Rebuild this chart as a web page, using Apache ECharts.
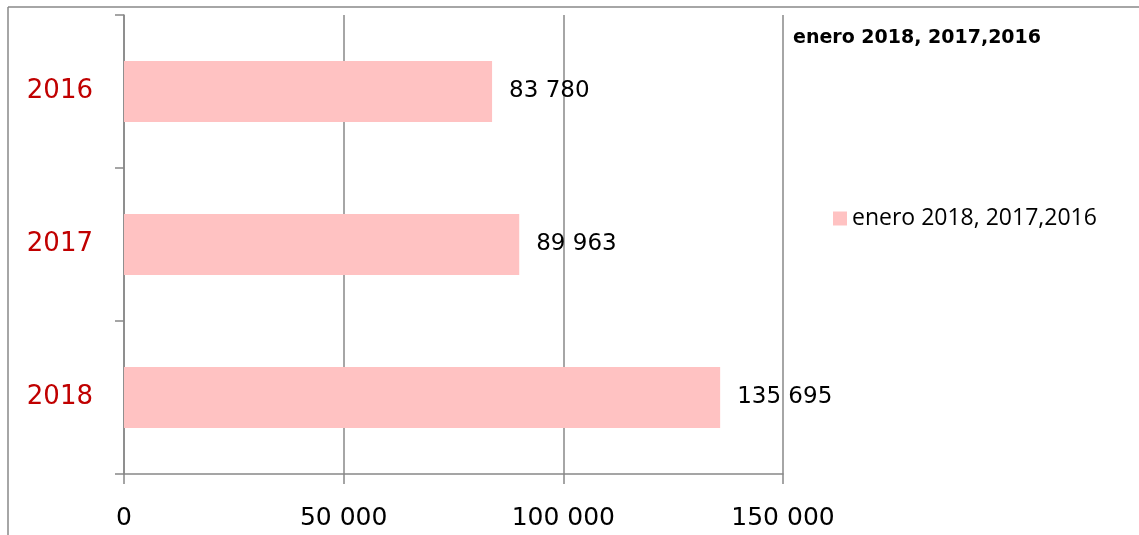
<!DOCTYPE html>
<html><head><meta charset="utf-8">
<script src="https://cdn.jsdelivr.net/npm/echarts@6/dist/echarts.min.js"></script>
<style>html,body{margin:0;padding:0;background:#fff}#c{width:1139px;height:535px}</style>
</head><body><div id="c"></div>
<script>
const categories = ['2018', '2017', '2016'];
const values = [135695, 89963, 83780];
const seriesName = 'enero 2018, 2017,2016';
const xTicks = [0, 50000, 100000, 150000];

function fmt(v){ return String(v).replace(/\B(?=(\d{3})+(?!\d))/g, ' '); }

const chart = echarts.init(document.getElementById('c'));
chart.setOption({
  animation: false,
  title: { text: seriesName, left: 788, top: 24,
    textStyle: { fontFamily: 'DejaVu Sans', fontSize: 19, fontWeight: 'bold', color: '#000' } },
  legend: { data: [seriesName], left: 828, top: 202, icon: 'rect', itemWidth: 14, itemHeight: 14, itemGap: 6,
    textStyle: { fontFamily: 'Open Sans', fontSize: 23, color: '#000' } },
  grid: { left: 124, top: 15, width: 659, height: 459, containLabel: false },
  xAxis: { type: 'value', min: xTicks[0], max: xTicks[xTicks.length-1], interval: 50000,
    axisLine: { show: true, lineStyle: { color: '#888', width: 1.5 } },
    axisTick: { show: true, length: 10, lineStyle: { color: '#888', width: 1.5 } },
    splitLine: { show: true, lineStyle: { color: '#888', width: 1.5 } },
    axisLabel: { margin: 32, fontFamily: 'DejaVu Sans', fontSize: 25, color: '#000', formatter: fmt } },
  yAxis: { type: 'category', data: categories,
    axisLine: { show: true, lineStyle: { color: '#888', width: 1.5 } },
    axisTick: { show: true, length: 9, alignWithLabel: false, lineStyle: { color: '#888', width: 1.5 } },
    axisLabel: { margin: 31, fontFamily: 'DejaVu Sans', fontSize: 26, color: '#C00000' } },
  series: [{ name: seriesName, type: 'bar', data: values, barCategoryGap: '60%',
    itemStyle: { color: '#FFC2C2' },
    label: { show: true, position: 'right', distance: 17, fontFamily: 'DejaVu Sans', fontSize: 23, color: '#000',
      formatter: p => fmt(p.value) } }],
  graphic: [
    { type: 'line', shape: { x1: 8, y1: 7, x2: 1139, y2: 7 }, style: { stroke: '#888', lineWidth: 1.5 } },
    { type: 'line', shape: { x1: 8, y1: 7, x2: 8, y2: 535 }, style: { stroke: '#888', lineWidth: 1.5 } }
  ]
});
</script></body></html>
